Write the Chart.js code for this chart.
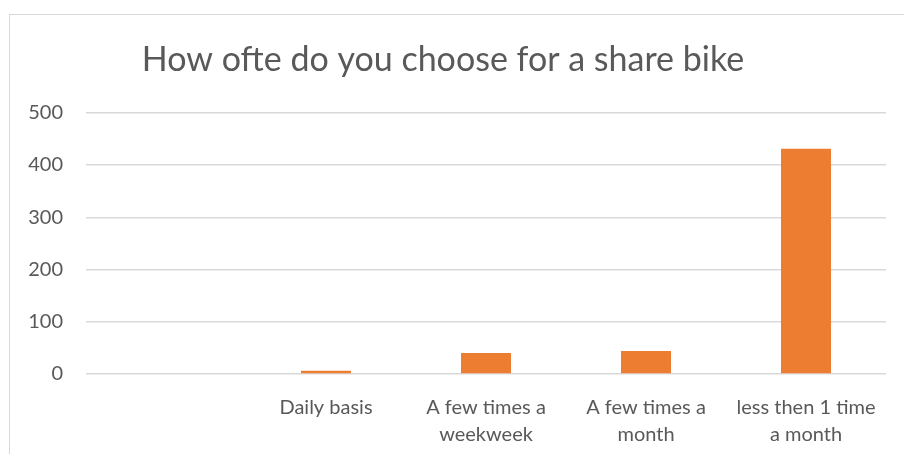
<!DOCTYPE html>
<html>
<head>
<meta charset="utf-8">
<script src="https://cdn.jsdelivr.net/npm/chart.js@4/dist/chart.umd.min.js"></script>
<style>
  html, body { margin: 0; padding: 0; background: #fff; overflow: hidden; }
  #wrap { position: relative; width: 904px; height: 454px; overflow: hidden; }
  #frame { position: absolute; left: 9px; top: 14px; width: 1000px; height: 1000px; border: 1.5px solid #d9d9d9; box-sizing: border-box; }
  canvas { position: absolute; left: 0; top: 0; }
</style>
</head>
<body>
<div id="wrap">
  <div id="frame"></div>
  <canvas id="bikeChart" width="904" height="454"></canvas>
</div>
<script>
  const chartTitle = 'How ofte do you choose for a share bike'
  const categories = ['', 'Daily basis', ['A few times a', 'weekweek'], ['A few times a', 'month'], ['less then 1 time', 'a month']]
  const answers = [null, 6, 40, 44, 431]
  const yTicks = [0, 100, 200, 300, 400, 500]

  const txtGray = '#595959'
  const fontName = 'Lato'

  let bikeChart = new Chart('bikeChart', {
    type: 'bar',
    data: {
      labels: categories,
      datasets: [{
        label: 'Answers',
        data: answers,
        backgroundColor: '#ED7D31',
        borderWidth: 0,
        barPercentage: 0.3125,
        categoryPercentage: 1
      }]
    },
    options: {
      responsive: false,
      animation: false,
      layout: { padding: { left: 0, right: 18, top: 0, bottom: 0 } },
      plugins: {
        legend: { display: false },
        tooltip: { enabled: false },
        title: {
          display: true,
          text: chartTitle,
          color: txtGray,
          font: { family: fontName, size: 34, weight: 'normal' },
          padding: { top: 40, bottom: 32 }
        }
      },
      scales: {
        x: {
          grid: { display: false, drawTicks: false },
          border: { display: false },
          ticks: {
            color: txtGray,
            font: { family: fontName, size: 20, lineHeight: 1.35 },
            autoSkip: false,
            maxRotation: 0,
            padding: 20
          },
          afterFit: function (scale) { scale.height = 80 }
        },
        y: {
          min: 0,
          max: 500,
          afterBuildTicks: function (scale) { scale.ticks = yTicks.map(v => ({ value: v })) },
          grid: { color: '#d9d9d9', lineWidth: 1.5, drawTicks: false },
          border: { display: false },
          ticks: {
            color: txtGray,
            font: { family: fontName, size: 20 },
            padding: 23
          },
          afterFit: function (scale) { scale.width = 86 }
        }
      }
    }
  });
</script>
</body>
</html>
